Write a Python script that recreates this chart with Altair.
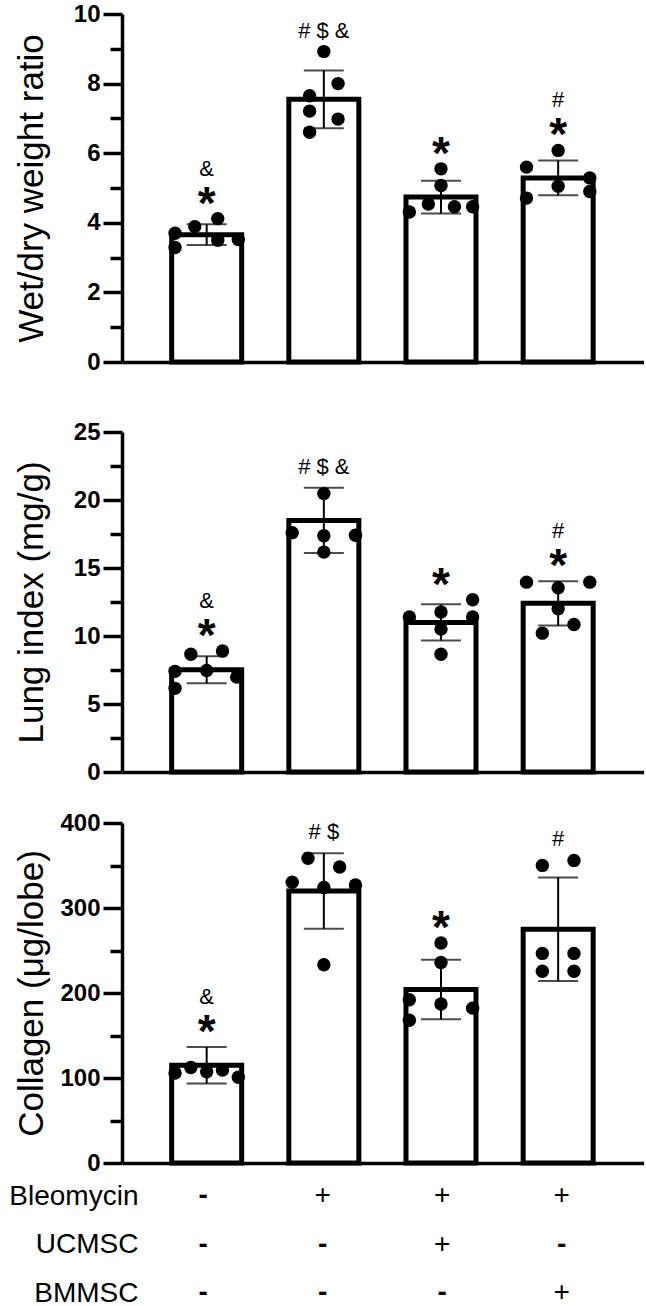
import altair as alt
import pandas as pd

# ---- data -------------------------------------------------------------
groups = [1, 2, 3, 4]

table_rows = ["Bleomycin", "UCMSC", "BMMSC"]
table_marks = [["-", "+", "+", "+"],
               ["-", "-", "+", "-"],
               ["-", "-", "-", "+"]]

# Wet/dry weight ratio
wet_mean = [3.66, 7.55, 4.74, 5.29]
wet_sd = [0.30, 0.83, 0.47, 0.50]
wet_points = [[3.70, 3.29, 3.89, 4.12, 3.50, 3.52],
              [8.92, 8.00, 7.65, 7.21, 6.98, 6.60],
              [5.55, 5.07, 4.31, 4.54, 4.46, 4.46],
              [6.08, 5.60, 4.71, 5.05, 5.29, 4.90]]
wet_slots = [[-2, -2, -0.75, 0.7, 0.7, 2],
             [0, 0.9, -0.9, -0.9, 0.9, -0.9],
             [0, 0, -2, -0.8, 0.85, 2],
             [0, -2, -2, 0, 2, 2]]
wet_star = [True, False, True, True]
wet_sup = ["&", "# $ &", "", "#"]

# Lung index (mg/g)
lung_mean = [7.52, 18.5, 11.0, 12.4]
lung_sd = [1.00, 2.40, 1.33, 1.63]
lung_points = [[7.40, 6.15, 8.66, 7.47, 8.90, 6.99],
               [20.47, 17.60, 17.37, 17.41, 16.17],
               [11.40, 11.76, 10.52, 8.66, 12.67, 11.40],
               [13.96, 13.96, 13.55, 12.00, 10.21, 10.85]]
lung_slots = [[-2, -2, -1, 0, 1, 1.9],
              [0, -2, 0, 2, 0],
              [-2, 0, 0, 0, 2, 2],
              [-2, 2, 0, 0, -1, 1]]
lung_star = [True, False, True, True]
lung_sup = ["&", "# $ &", "", "#"]

# Collagen (ug/lobe)
col_mean = [115, 320, 204, 275]
col_sd = [21.5, 44.5, 35.0, 61.0]
col_points = [[105.9, 112.4, 107.4, 109.3, 100.9],
              [358.6, 348.2, 330.2, 324.1, 327.1, 233.2],
              [258.9, 235.9, 192.1, 168.0, 187.1, 182.2],
              [350.1, 355.9, 246.6, 246.6, 225.5, 225.5]]
col_slots = [[-2, -1, 0, 1, 2],
             [-1, 1, -2, 0, 2, 0],
             [0, 0, -2, -2, 0, 2],
             [-1, 1, -1, 1, -1, 1]]
col_star = [True, False, True, False]
col_sup = ["&", "# $", "", "#"]

# ---- style ------------------------------------------------------------
FONT = "Liberation Sans"
PLOT_W = 522
SLOT_W = 0.135          # horizontal step between dot columns, in group units
X_SCALE = alt.Scale(domain=[0.32, 4.69], nice=False, zero=False)
LINE_W = 3.5
X_AXIS = alt.Axis(labels=False, ticks=False, title=None, grid=False,
                  domain=True, domainWidth=LINE_W, domainColor="black")


def panel(mean, sd, pts, slots, star, sup, ymax, major, minor, title,
          height, top):
    bars = pd.DataFrame({
        "group": groups,
        "mean": mean,
        "lo": [m - s for m, s in zip(mean, sd)],
        "hi": [m + s for m, s in zip(mean, sd)],
    })
    rows = []
    for g, vals, sl in zip(groups, pts, slots):
        for v, s in zip(vals, sl):
            rows.append({"group": g, "slot": s, "value": v})
    dots = pd.DataFrame(rows)

    peak = [max(h, max(p)) for h, p in zip(bars["hi"], pts)]
    ann = pd.DataFrame({"group": groups, "top": peak,
                        "star": star, "sup": sup})

    y_scale = alt.Scale(domain=[0, ymax], range=[height, top],
                        nice=False, zero=True)
    n = int(round(ymax / minor))
    tick_vals = [round(i * minor, 6) for i in range(n + 1)]
    y_axis = alt.Axis(
        values=tick_vals,
        title=title,
        titleFont=FONT, titleFontSize=35, titleFontWeight="normal",
        titleColor="black", titleX=-91, titleY=(height + top) / 2,
        titleAngle=-90, titleAlign="center", titleBaseline="middle",
        labelFont=FONT, labelFontSize=24, labelFontWeight="bold",
        labelColor="black", labelPadding=3, labelOverlap=False,
        labelExpr=f"datum.value % {major} === 0 ? datum.label : ''",
        tickSize={"condition": {"test": f"datum.value % {major} === 0",
                                "value": 19}, "value": 12},
        tickWidth=LINE_W, tickColor="black",
        domainWidth=LINE_W, domainColor="black", grid=False,
    )

    def X(field):
        return alt.X(field, type="quantitative", scale=X_SCALE, axis=X_AXIS)

    def Y(field):
        return alt.Y(field, type="quantitative", scale=y_scale, axis=y_axis)

    base = alt.Chart(bars)
    bar_layer = base.mark_bar(fill="white", stroke="black", strokeWidth=5,
                              size=70).encode(x=X("group"), y=Y("mean"))
    err = base.mark_rule(color="black", strokeWidth=2).encode(
        x=X("group"), y=Y("lo"), y2="hi")
    cap_hi = base.mark_tick(orient="horizontal", size=40, thickness=2,
                            color="black").encode(x=X("group"), y=Y("hi"))
    cap_lo = base.mark_tick(orient="horizontal", size=40, thickness=2,
                            color="black").encode(x=X("group"), y=Y("lo"))
    dot_layer = alt.Chart(dots).transform_calculate(
        xpos=f"datum.group + datum.slot * {SLOT_W}"
    ).mark_circle(size=180, color="black", opacity=1).encode(
        x=X("xpos"), y=Y("value"))

    abase = alt.Chart(ann)
    stars = abase.transform_filter("datum.star").mark_text(
        text="*", font=FONT, fontSize=46, fontWeight="bold",
        baseline="alphabetic", dy=0, color="black").encode(
        x=X("group"), y=Y("top"))
    sup_high = abase.transform_filter("datum.star && datum.sup != ''") \
        .mark_text(font=FONT, fontSize=22, baseline="alphabetic", dy=-43,
                   color="black").encode(x=X("group"), y=Y("top"),
                                         text="sup:N")
    sup_low = abase.transform_filter("!datum.star && datum.sup != ''") \
        .mark_text(font=FONT, fontSize=22, baseline="alphabetic", dy=-14,
                   color="black").encode(x=X("group"), y=Y("top"),
                                         text="sup:N")
    return alt.layer(bar_layer, err, cap_hi, cap_lo, dot_layer, stars,
                     sup_high, sup_low).properties(width=PLOT_W,
                                                   height=height)


wet = panel(wet_mean, wet_sd, wet_points, wet_slots, wet_star, wet_sup,
            10, 2, 1, "Wet/dry weight ratio", 362, 14)
lung = panel(lung_mean, lung_sd, lung_points, lung_slots, lung_star,
             lung_sup, 25, 5, 2.5, "Lung index (mg/g)", 410, 70)
col = panel(col_mean, col_sd, col_points, col_slots, col_star, col_sup,
            400, 100, 50, "Collagen (\u03bcg/lobe)", 391, 51)

# treatment table under the bottom panel
trows = []
for r, marks in zip(table_rows, table_marks):
    for g, m in zip(groups, marks):
        trows.append({"row": r, "group": g, "sym": m})
tdf = pd.DataFrame(trows)

row_scale = alt.Scale(type="point", domain=table_rows, range=[33, 130],
                      padding=0)
row_axis = alt.Axis(title=None, domain=False, ticks=False, grid=False,
                    labelFont=FONT, labelFontSize=28, labelColor="black",
                    labelPadding=0, offset=-16, labelAlign="right")
t_x = alt.X("group:Q", scale=X_SCALE, axis=None)
t_y = alt.Y("row:N", scale=row_scale, axis=row_axis)
tbase = alt.Chart(tdf)
plus = tbase.transform_filter("datum.sym == '+'").mark_text(
    font=FONT, fontSize=28, color="black").encode(x=t_x, y=t_y,
                                                  text="sym:N")
minus = tbase.transform_filter("datum.sym == '-'").mark_text(
    font=FONT, fontSize=28, fontWeight="bold", color="black").encode(
    x=t_x, y=t_y, text="sym:N")
table = alt.layer(plus, minus).properties(width=PLOT_W, height=143)

chart = alt.vconcat(wet, lung, col, table, spacing=0, bounds="flush") \
    .properties(padding={"left": 8, "top": 0, "right": 0, "bottom": 0},
                background="white") \
    .configure_view(stroke=None)

chart.save("out.html", embed_options={"renderer": "svg", "actions": False})
